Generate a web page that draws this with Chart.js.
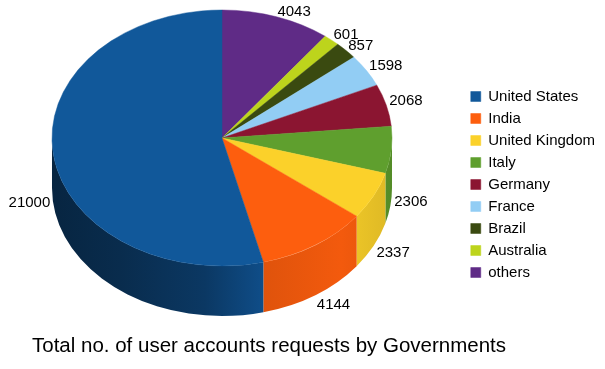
<!DOCTYPE html>
<html><head><meta charset="utf-8">
<script src="https://cdn.jsdelivr.net/npm/chart.js@4/dist/chart.umd.min.js"></script>
<style>html,body{margin:0;padding:0;background:#fff}#wrap{width:605px;height:369px}</style>
</head><body><div id="wrap"><canvas id="c" width="605" height="369"></canvas></div>
<script>
// ---- data (legend order) ----
const categories = ['United States','India','United Kingdom','Italy','Germany','France','Brazil','Australia','others'];
const requests = [21000,4144,2337,2306,2068,1598,857,601,4043];
const colors = ['#11589a','#fd5e0e','#fbd12a','#5f9f2e','#8b1531','#92cdf4','#3a4a10','#bdd41c','#5f2b86'];
const titleText = 'Total no. of user accounts requests by Governments';

// drawn clockwise from the top in reverse legend order
const drawLabels = categories.slice().reverse();
const drawValues = requests.slice().reverse();
const drawColors = colors.slice().reverse();

const FONT = '"Liberation Sans", Arial, Helvetica, sans-serif';
const CX = 222, CY = 138, RX = 170, RY = 128, DEPTH = 50;
const sideStops = [[0,0.42],[0.2,0.5],[0.45,0.64],[0.62,0.88],[0.85,0.96],[1,0.88]];

function shade(hex, f){
  const n = parseInt(hex.slice(1),16);
  const r = Math.round(((n>>16)&255)*f), g = Math.round(((n>>8)&255)*f), b = Math.round((n&255)*f);
  return 'rgb('+r+','+g+','+b+')';
}

const pie3d = {
  id:'pie3d',
  beforeDatasetsDraw(chart){
    const ctx = chart.ctx;
    const els = chart.getDatasetMeta(0).data;
    els.forEach((el,i)=>{
      const s = Math.max(el.startAngle, 0), e = Math.min(el.endAngle, Math.PI);
      if (e <= s) return;
      const g = ctx.createLinearGradient(CX-RX,0,CX+RX,0);
      sideStops.forEach(([t,f])=>g.addColorStop(t, shade(drawColors[i], f)));
      ctx.beginPath();
      ctx.ellipse(CX,CY,RX,RY,0,s,e,false);
      ctx.ellipse(CX,CY+DEPTH,RX,RY,0,e,s,true);
      ctx.closePath();
      ctx.fillStyle = g;
      ctx.fill();
    });
    const el0 = els[0];
    ctx.save();
    ctx.translate(CX,CY);
    ctx.scale(RX/el0.outerRadius, RY/el0.outerRadius);
    ctx.translate(-el0.x,-el0.y);
  },
  afterDatasetsDraw(chart){
    const ctx = chart.ctx;
    ctx.restore();
    const els = chart.getDatasetMeta(0).data;
    ctx.save();
    ctx.font = '15px ' + FONT;
    ctx.fillStyle = '#000';
    ctx.textBaseline = 'middle';
    els.forEach((el,i)=>{
      const th = (el.startAngle+el.endAngle)/2 + Math.PI/2;
      const s = Math.sin(th), c = Math.cos(th);
      let y;
      if (c >= 0) y = CY - (RY+4)*c - 3*s;
      else y = CY + DEPTH - (RY+4)*c + 14*s*Math.abs(c);
      const x = CX + (RX+3)*s;
      ctx.textAlign = s > 0.3 ? 'left' : (s < -0.3 ? 'right' : 'center');
      ctx.fillText(String(drawValues[i]), x, y);
    });
    ctx.restore();
  }
};

new Chart(document.getElementById('c').getContext('2d'), {
  type:'pie',
  data:{labels:drawLabels, datasets:[{data:drawValues, backgroundColor:drawColors, borderColor:drawColors, borderWidth:0.5, clip:false}]},
  options:{
    responsive:false, animation:false, devicePixelRatio:1,
    layout:{padding:{left:32,right:0,top:0,bottom:0}},
    plugins:{
      legend:{position:'right', reverse:true,
        labels:{boxWidth:10, boxHeight:10, padding:7, color:'#000', font:{size:15, family:FONT}}},
      title:{display:true, text:titleText, position:'bottom', align:'start', color:'#000',
        font:{size:20.5, weight:'normal', family:FONT}, padding:{top:10,bottom:10}},
      tooltip:{enabled:false}
    }
  },
  plugins:[pie3d]
});
</script></body></html>
